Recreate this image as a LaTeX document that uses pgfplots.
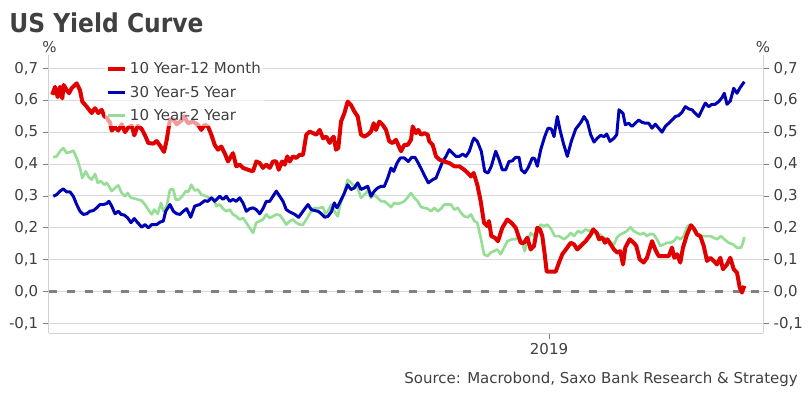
\documentclass[border=0pt]{standalone}
\usepackage{fontspec}
\setmainfont{DejaVu Sans}
\usepackage{graphicx}
\usepackage{pgfplots}
\pgfplotsset{compat=1.18}
\definecolor{cRed}{RGB}{225,0,0}
\definecolor{cBlue}{RGB}{0,0,180}
\definecolor{cGreen}{RGB}{150,222,150}
\definecolor{cZero}{RGB}{128,128,128}
\definecolor{cGrid}{RGB}{218,218,218}
\definecolor{cText}{RGB}{64,64,64}
\definecolor{cAxis}{RGB}{210,210,210}
\newcommand{\lblfont}{\fontsize{11.25}{13}\selectfont}
\begin{document}
\begin{tikzpicture}
\path[use as bounding box] (0,0) rectangle (609pt,297pt);
\pgfplotsset{
  common/.style={
    width=535.5pt, height=208.5pt, scale only axis,
    at={(36.75pt,47.25pt)}, anchor=south west,
    xmin=49, xmax=763, ymin=-0.13, ymax=0.742,
    ytick={-0.1,0,0.1,0.2,0.3,0.4,0.5,0.6,0.7},
    tick align=outside,
    major tick length=4.5pt,
    tick style={draw=cZero, line width=0.6pt},
    axis line style={draw=cAxis, line width=0.75pt},
    tick label style={font=\lblfont, text=cText},
    /pgf/number format/assume math mode=true,
    yticklabel style={/pgf/number format/.cd, fixed, fixed zerofill, precision=1, use comma},
  }
}
\begin{axis}[common,
  axis x line*=bottom, axis y line*=left,
  xtick={549}, xticklabels={2019},
  ymajorgrids, grid style={draw=cGrid, line width=0.75pt},
  reverse legend,
  legend style={at={(0.078,0.988)}, anchor=north west, fill=white, fill opacity=0.6, text opacity=1,
     draw=none, font=\lblfont, text=cText, row sep=3.5pt, inner xsep=1pt, inner ysep=1pt},
  legend cell align=left,
  legend image code/.code={\draw[#1] (0pt,0pt) -- (12.75pt,0pt);},
  line join=round,
]
\addplot[forget plot, draw=cZero, line width=2.25pt, dash pattern=on 6pt off 7.5pt] coordinates {(49,0) (763,0)};
% 10 Year-2 Year
\addplot[draw=cGreen, line width=2pt] coordinates {
(53.3,0.421)(56.7,0.424)(60.0,0.440)(63.3,0.450)(66.7,0.434)(70.0,0.4375)(73.3,0.442)(76.7,0.419)(80.0,0.3875)(82.3,0.356)
(85.7,0.377)(89.0,0.358)(91.7,0.351)(95.0,0.369)(97.7,0.341)(101.0,0.346)(104.3,0.335)(106.7,0.341)(109.0,0.330)(111.7,0.315)
(115.0,0.325)(118.3,0.333)(121.7,0.309)(125.0,0.299)(127.7,0.309)(131.0,0.294)(134.3,0.292)(137.7,0.289)(141.7,0.285)(145.0,0.273)
(148.3,0.257)(151.7,0.242)(154.3,0.257)(157.7,0.244)(161.0,0.278)(163.3,0.252)(166.7,0.268)(170.0,0.320)(173.3,0.320)(175.7,0.289)
(179.0,0.289)(182.3,0.299)(185.7,0.315)(188.3,0.3125)(191.3,0.335)(194.7,0.317)(198.0,0.320)(201.3,0.304)(206.3,0.299)(209.7,0.292)
(213.0,0.294)(216.3,0.268)(219.7,0.273)(223.0,0.260)(226.3,0.252)(229.7,0.257)(233.0,0.242)(236.3,0.236)(239.7,0.226)(243.0,0.231)
(246.3,0.216)(249.7,0.200)(253.0,0.184)(256.3,0.216)(259.7,0.221)(263.0,0.226)(266.3,0.242)(269.7,0.231)(273.0,0.236)(276.3,0.242)
(279.7,0.240)(283.0,0.226)(286.3,0.210)(289.7,0.221)(293.0,0.226)(296.3,0.216)(299.7,0.210)(303.0,0.210)(306.3,0.226)(309.7,0.244)
(313.0,0.260)(316.3,0.2625)(319.7,0.2625)(323.0,0.265)(325.3,0.244)(328.0,0.252)(331.3,0.273)(334.3,0.252)(337.7,0.236)(340.3,0.273)
(343.7,0.304)(347.7,0.351)(351.0,0.341)(354.3,0.330)(357.7,0.325)(361.0,0.294)(364.3,0.304)(367.7,0.315)(371.0,0.294)(374.3,0.304)
(377.7,0.294)(381.0,0.283)(384.3,0.283)(387.7,0.275)(391.0,0.265)(394.3,0.278)(397.7,0.275)(401.0,0.278)(404.3,0.283)(407.7,0.296)
(411.0,0.309)(414.3,0.294)(417.7,0.283)(421.0,0.265)(424.3,0.2625)(427.7,0.260)(431.0,0.252)(434.3,0.2625)(437.7,0.252)(441.0,0.260)
(444.3,0.273)(447.7,0.273)(451.0,0.273)(454.3,0.257)(457.7,0.2625)(461.0,0.247)(464.3,0.236)(467.7,0.233)(471.0,0.242)(474.3,0.221)
(477.3,0.216)(480.7,0.169)(484.0,0.117)(487.3,0.111)(490.7,0.122)(494.0,0.127)(497.3,0.132)(500.7,0.117)(504.0,0.1375)(507.3,0.158)
(512.3,0.164)(515.7,0.164)(519.0,0.174)(522.3,0.153)(524.7,0.127)(527.3,0.158)(530.7,0.184)(534.0,0.174)(537.3,0.195)(540.7,0.210)
(544.0,0.205)(547.3,0.210)(551.3,0.195)(554.7,0.174)(559.0,0.174)(564.0,0.164)(568.0,0.174)(570.7,0.184)(574.0,0.174)(578.0,0.190)
(581.3,0.184)(585.7,0.195)(589.0,0.190)(592.3,0.195)(595.7,0.181)(600.0,0.179)(603.3,0.169)(607.3,0.164)(611.3,0.153)(614.0,0.148)
(617.3,0.171)(620.3,0.179)(623.7,0.184)(627.0,0.190)(630.3,0.202)(633.7,0.190)(637.0,0.184)(640.3,0.179)(643.7,0.184)(647.0,0.174)
(650.3,0.181)(653.7,0.179)(657.0,0.164)(660.3,0.143)(663.7,0.148)(667.0,0.153)(670.3,0.153)(673.7,0.158)(677.0,0.171)(680.3,0.164)
(683.7,0.174)(687.0,0.202)(689.7,0.210)(693.0,0.200)(697.0,0.179)(700.3,0.174)(705.3,0.174)(710.3,0.174)(713.7,0.169)(717.0,0.164)
(721.0,0.174)(724.3,0.164)(728.7,0.153)(733.0,0.148)(737.0,0.1375)(741.0,0.1375)(743.0,0.153)(744.3,0.171)
};
\addlegendentry{10 Year-2 Year}
% 30 Year-5 Year
\addplot[draw=cBlue, line width=2.25pt] coordinates {
(53.3,0.299)(56.7,0.304)(60.0,0.315)(63.3,0.322)(66.7,0.3125)(70.0,0.3125)(73.3,0.299)(76.7,0.273)(80.0,0.252)(83.3,0.242)
(86.7,0.244)(90.0,0.252)(93.3,0.254)(96.7,0.2625)(100.0,0.273)(103.3,0.273)(106.7,0.276)(109.0,0.283)(111.7,0.268)(115.0,0.244)
(118.3,0.252)(121.0,0.242)(124.3,0.240)(127.7,0.231)(131.0,0.216)(134.3,0.229)(137.7,0.216)(141.7,0.202)(145.0,0.210)(148.3,0.200)
(151.7,0.210)(156.7,0.210)(160.0,0.218)(163.3,0.221)(165.7,0.252)(170.0,0.273)(173.3,0.252)(176.7,0.244)(180.0,0.242)(183.3,0.252)
(186.7,0.260)(190.7,0.233)(194.7,0.268)(199.7,0.273)(204.7,0.285)(208.0,0.283)(211.3,0.294)(214.7,0.283)(219.7,0.299)(223.0,0.289)
(226.3,0.299)(229.7,0.283)(233.0,0.289)(236.3,0.283)(239.7,0.294)(243.0,0.278)(246.3,0.252)(249.7,0.260)(253.0,0.2625)(256.3,0.257)
(259.7,0.244)(263.0,0.260)(266.3,0.283)(269.7,0.283)(273.0,0.299)(276.3,0.315)(279.7,0.299)(283.0,0.283)(286.3,0.257)(289.7,0.250)
(294.7,0.242)(298.7,0.233)(303.0,0.252)(308.0,0.273)(311.3,0.257)(314.7,0.254)(318.0,0.252)(321.3,0.244)(324.7,0.233)(328.0,0.236)
(331.3,0.250)(334.3,0.278)(337.0,0.2625)(340.3,0.283)(343.7,0.304)(347.7,0.335)(351.0,0.320)(354.3,0.325)(357.7,0.341)(361.0,0.320)
(364.3,0.325)(367.7,0.330)(371.0,0.299)(374.3,0.315)(377.7,0.325)(381.0,0.330)(384.3,0.330)(387.7,0.356)(391.0,0.3875)(393.7,0.377)
(397.0,0.403)(400.3,0.419)(404.3,0.419)(408.3,0.408)(411.7,0.421)(415.0,0.421)(418.3,0.403)(421.7,0.382)(425.0,0.361)(428.3,0.341)
(432.7,0.351)(436.0,0.356)(439.3,0.382)(442.7,0.408)(446.0,0.424)(449.3,0.445)(452.7,0.434)(456.0,0.424)(459.3,0.424)(462.7,0.431)
(466.0,0.424)(469.3,0.440)(472.7,0.473)(474.0,0.481)(477.3,0.471)(481.3,0.440)(484.7,0.377)(488.0,0.372)(491.3,0.393)(495.7,0.440)
(499.0,0.414)(502.3,0.382)(505.7,0.382)(509.0,0.408)(512.3,0.410)(515.7,0.421)(519.0,0.421)(521.3,0.382)(524.7,0.372)(528.0,0.3875)
(532.3,0.419)(534.7,0.417)(537.3,0.393)(540.7,0.445)(544.7,0.486)(548.0,0.5125)(551.3,0.510)(554.0,0.486)(557.3,0.549)(560.0,0.507)
(563.3,0.466)(567.3,0.424)(571.3,0.471)(575.7,0.510)(579.0,0.523)(581.3,0.533)(584.0,0.549)(587.3,0.533)(590.7,0.492)(594.0,0.469)
(597.3,0.481)(600.7,0.490)(604.0,0.486)(606.7,0.494)(610.0,0.471)(614.0,0.481)(616.7,0.492)(619.0,0.570)(623.0,0.559)(625.3,0.523)
(628.7,0.528)(632.0,0.518)(635.3,0.528)(638.7,0.538)(642.0,0.531)(645.3,0.528)(648.7,0.528)(652.0,0.5125)(655.3,0.525)(658.7,0.5125)
(662.0,0.500)(665.3,0.518)(668.7,0.528)(672.0,0.538)(675.3,0.549)(678.7,0.552)(682.0,0.5625)(685.3,0.580)(688.7,0.573)(692.0,0.570)
(695.3,0.559)(698.7,0.549)(702.0,0.570)(705.3,0.591)(708.7,0.580)(712.0,0.5875)(715.3,0.5875)(718.7,0.596)(722.0,0.608)(724.3,0.622)
(727.0,0.5875)(730.3,0.598)(733.7,0.6375)(737.0,0.622)(739.7,0.6375)(742.0,0.648)(744.3,0.658)
};
\addlegendentry{30 Year-5 Year}
% 10 Year-12 Month
\addplot[draw=cRed, line width=3pt] coordinates {
(52.3,0.617)(55.0,0.642)(57.7,0.610)(60.0,0.642)(62.3,0.606)(63.7,0.648)(66.7,0.632)(69.0,0.622)(71.7,0.638)(76.7,0.653)
(80.0,0.632)(82.3,0.596)(86.7,0.580)(91.7,0.560)(95.0,0.575)(98.3,0.560)(101.7,0.570)(104.3,0.550)(106.7,0.545)(110.0,0.530)
(111.7,0.505)(115.0,0.515)(118.3,0.505)(121.7,0.525)(125.0,0.500)(128.3,0.515)(131.7,0.520)(134.3,0.490)(137.7,0.520)(141.7,0.510)
(145.0,0.490)(148.3,0.466)(153.3,0.464)(156.7,0.472)(160.0,0.458)(164.0,0.438)(166.7,0.475)(170.0,0.540)(173.3,0.540)(176.7,0.525)
(181.0,0.535)(184.0,0.550)(188.0,0.528)(193.0,0.533)(198.0,0.523)(201.3,0.507)(204.7,0.523)(208.0,0.518)(211.3,0.492)(214.7,0.460)
(218.0,0.445)(221.3,0.455)(224.7,0.434)(228.0,0.408)(233.0,0.434)(236.3,0.393)(239.7,0.398)(243.0,0.388)(248.0,0.382)(253.0,0.377)
(256.3,0.408)(259.7,0.403)(263.0,0.388)(266.3,0.398)(269.7,0.388)(273.0,0.408)(276.3,0.408)(278.7,0.382)(282.0,0.408)(284.7,0.398)
(287.3,0.424)(289.7,0.408)(293.0,0.424)(296.3,0.419)(299.7,0.429)(303.0,0.429)(306.3,0.492)(309.7,0.502)(313.0,0.497)(316.3,0.492)
(319.7,0.507)(323.0,0.481)(326.3,0.486)(329.7,0.466)(331.0,0.476)(333.7,0.486)(336.0,0.445)(338.3,0.450)(341.0,0.533)(344.3,0.559)
(347.7,0.596)(351.0,0.585)(354.3,0.565)(357.7,0.549)(361.0,0.492)(364.3,0.486)(367.7,0.492)(371.0,0.502)(373.7,0.528)(376.0,0.507)
(379.3,0.533)(382.7,0.523)(386.0,0.507)(389.3,0.471)(392.7,0.466)(396.0,0.476)(401.0,0.440)(404.3,0.460)(407.7,0.460)(411.0,0.476)
(412.7,0.518)(416.0,0.497)(418.3,0.507)(421.0,0.492)(424.3,0.497)(427.7,0.492)(429.3,0.471)(432.7,0.460)(436.0,0.424)(439.3,0.414)
(444.3,0.408)(449.3,0.403)(454.3,0.393)(459.3,0.393)(464.3,0.382)(467.7,0.372)(471.0,0.361)(473.7,0.372)(477.3,0.335)(480.7,0.283)
(484.0,0.216)(487.3,0.205)(489.0,0.221)(491.3,0.174)(494.7,0.169)(498.0,0.158)(502.3,0.200)(507.3,0.226)(511.3,0.216)(515.7,0.200)
(520.7,0.153)(524.0,0.153)(527.3,0.169)(530.7,0.132)(534.0,0.143)(537.3,0.200)(540.0,0.195)(542.3,0.174)(544.7,0.117)(546.7,0.0625)
(555.7,0.0625)(559.0,0.091)(562.3,0.117)(567.3,0.138)(570.7,0.153)(574.0,0.148)(577.3,0.132)(580.7,0.143)(585.7,0.158)(590.7,0.179)
(593.3,0.195)(596.7,0.184)(599.0,0.164)(602.3,0.169)(605.0,0.153)(607.3,0.164)(610.7,0.148)(614.0,0.132)(617.3,0.122)(620.3,0.127)
(623.0,0.085)(625.3,0.138)(629.7,0.164)(633.7,0.153)(636.3,0.143)(639.7,0.101)(643.7,0.091)(647.0,0.106)(652.0,0.158)(655.3,0.132)
(658.7,0.111)(663.7,0.111)(668.7,0.111)(672.0,0.138)(674.3,0.106)(677.0,0.117)(680.3,0.091)(683.0,0.138)(687.0,0.179)(691.0,0.208)
(694.3,0.195)(697.0,0.179)(700.3,0.174)(703.7,0.143)(707.0,0.096)(710.3,0.106)(713.7,0.096)(717.0,0.085)(720.3,0.106)(723.0,0.070)
(727.0,0.085)(730.3,0.106)(733.7,0.070)(737.0,0.059)(739.7,0.0125)(742.0,-0.003)(744.3,0.018)
};
\addlegendentry{10 Year-12 Month}
\end{axis}
\begin{axis}[common,
  axis x line=none, axis y line*=right,
]
\end{axis}
\node[anchor=base west, inner sep=0, text=cText, font=\fontsize{19.5}{22}\selectfont\bfseries] at (6.75pt,272.75pt) {\scalebox{0.9}[1]{US Yield Curve}};
\node[anchor=base, inner sep=0, text=cText, font=\lblfont] at (37.1pt,257.25pt) {\%};
\node[anchor=base, inner sep=0, text=cText, font=\lblfont] at (572.25pt,257.25pt) {\%};
\node[anchor=base east, inner sep=0, text=cText, font=\lblfont] at (598.5pt,9.75pt) {Source: Macrobond, Saxo Bank Research \& Strategy};
\end{tikzpicture}
\end{document}
